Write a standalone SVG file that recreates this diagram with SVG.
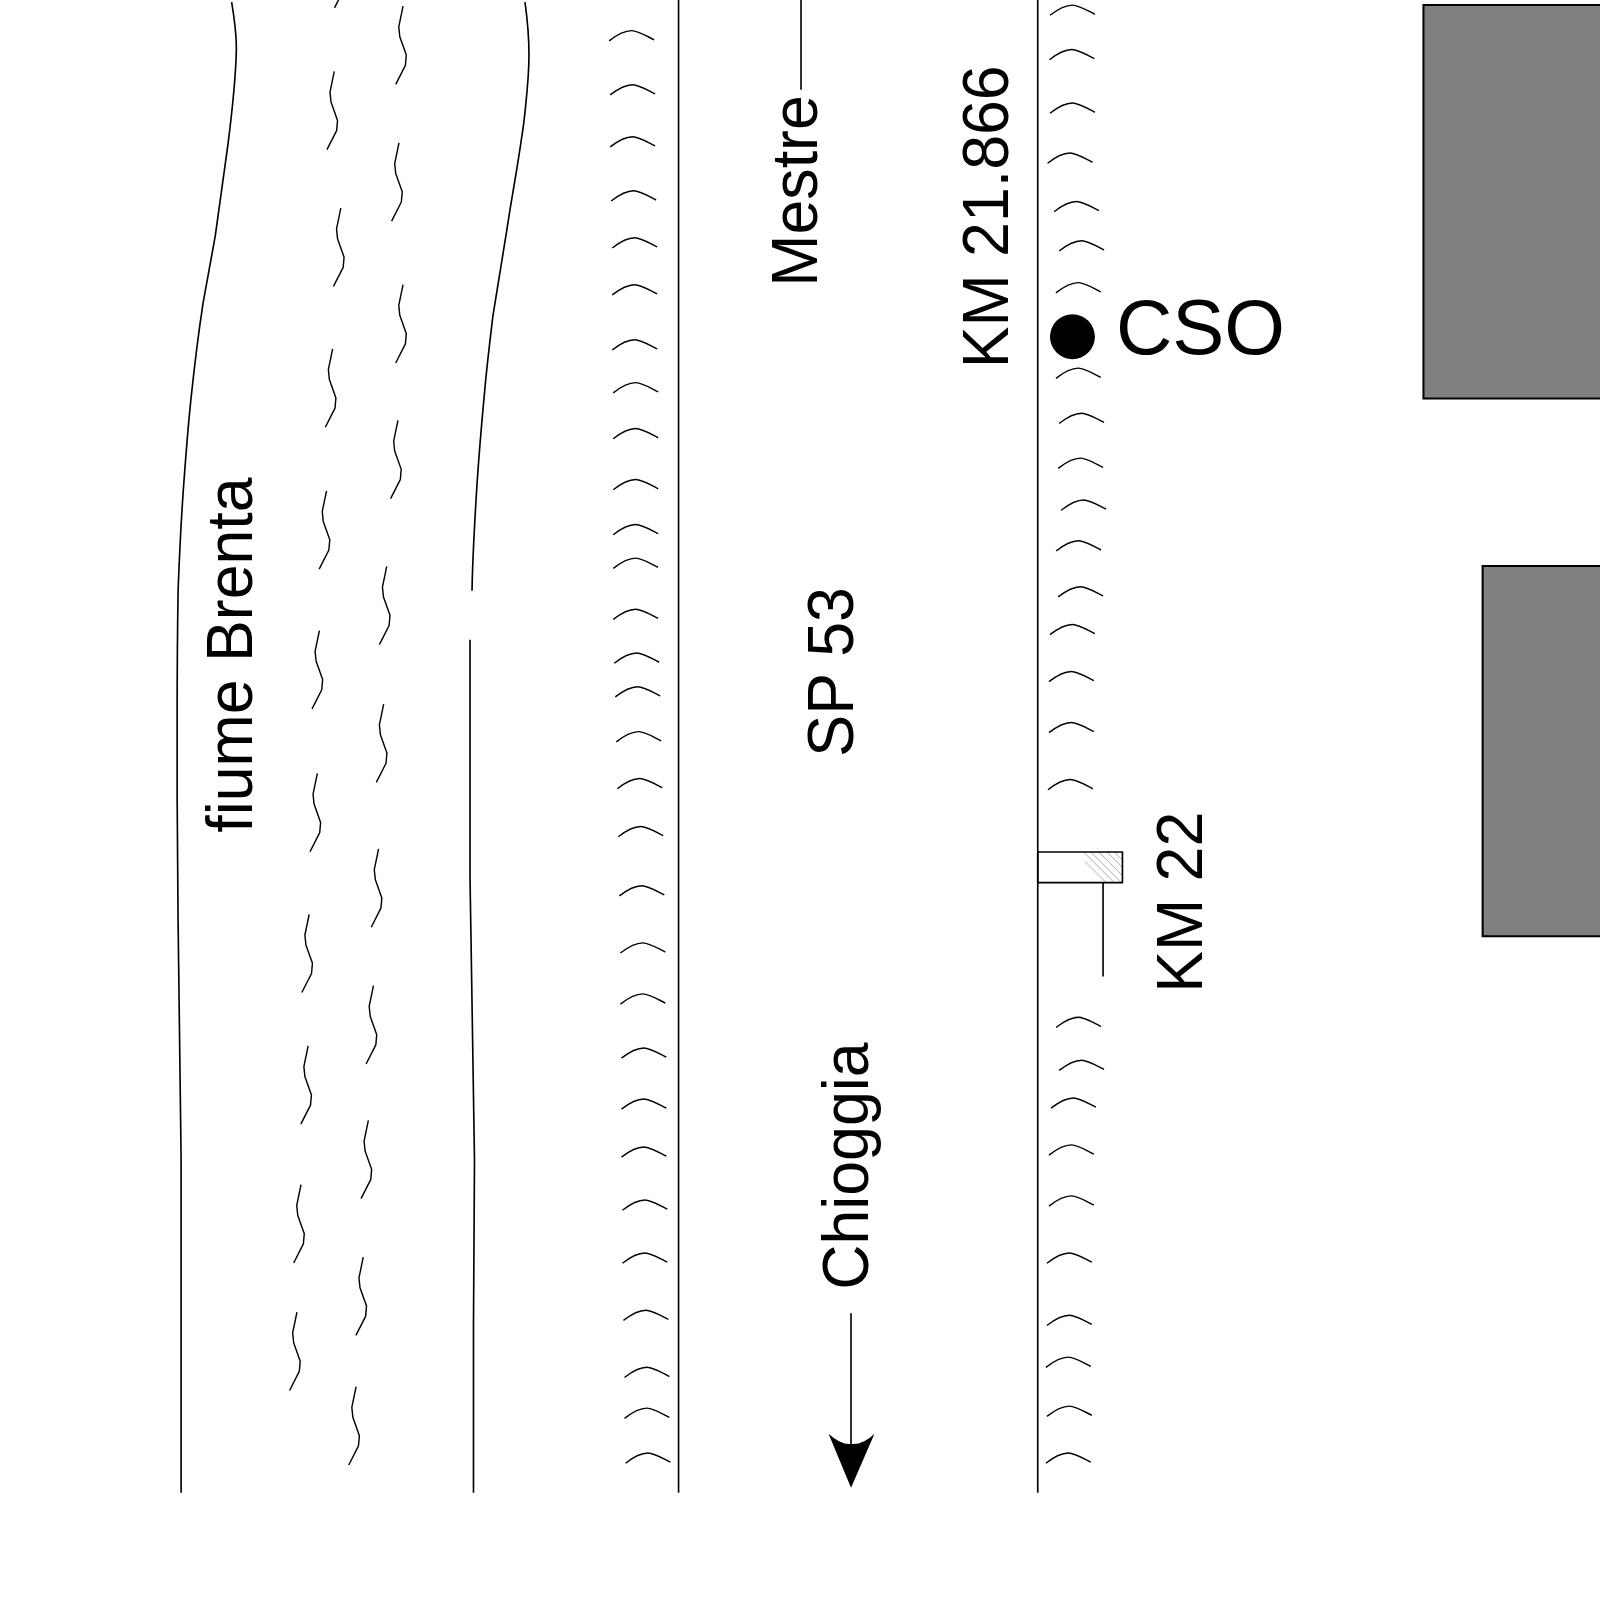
<svg xmlns="http://www.w3.org/2000/svg" width="1600" height="1600" viewBox="0 0 1600 1600">
<style>
.l{fill:none;stroke:#000;stroke-width:1.6;stroke-linejoin:round}
.t{fill:none;stroke:#000;stroke-width:1.4;stroke-linejoin:round}
.h{fill:none;stroke:#777;stroke-width:.6}
.f{fill:#808080}
.e{fill:none;stroke:#000;stroke-width:2}
text{font-family:"Liberation Sans",Arial,sans-serif;font-size:63px;fill:#000}
</style>
<defs>
<path id="a" class="t" d="M-22 10C-13 3-6 0 0 0C6 0 14 5 22 9"/>
<path id="s" class="t" d="M0 0L-4.2 20.3L-3.2 30L3.2 48L2.3 58L-7.2 76.7"/>
</defs>
<rect width="1600" height="1600" fill="#fff"/>
<g transform="scale(1.0204)">
<g id="river">
<path class="l" d="M227 2C230 20 232 35 231.6 50C231 75 228 105 223.6 140L211 231L199 297C194 330 191 355 188 383C185 410 183 435 181 462C178 500 176 540 174.6 577C174 610 173.6 640 173.6 700V780L174.5 900L177.5 1137V1463"/>
<path class="l" d="M514.5 2C517 20 518.4 38 518.4 54C518.4 70 517 86 515 105C514 115 513 125 511 136C507 165 502 190 496.6 226L483 310C480 335 477 360 475 383C472 415 469 450 467 482C465 515 463 550 462.6 579"/>
<path class="l" d="M460.6 627V860L461.6 920L465 1137L464 1300V1463"/>
<g id="ripples">
<use href="#s" x="395" y="6"/><use href="#s" x="391" y="140"/><use href="#s" x="395" y="279"/><use href="#s" x="390" y="412"/><use href="#s" x="379" y="555"/><use href="#s" x="376" y="690"/><use href="#s" x="371" y="832"/><use href="#s" x="366" y="966"/><use href="#s" x="361" y="1098"/><use href="#s" x="356" y="1232"/><use href="#s" x="349" y="1359"/>
<use href="#s" x="335" y="-69"/><use href="#s" x="327.6" y="70"/><use href="#s" x="334" y="204"/><use href="#s" x="326" y="342"/><use href="#s" x="320" y="481"/><use href="#s" x="313" y="618"/><use href="#s" x="311" y="758"/><use href="#s" x="303" y="896"/><use href="#s" x="302" y="1025"/><use href="#s" x="295" y="1161"/><use href="#s" x="291" y="1286"/>
</g>
</g>
<g id="road">
<path class="l" d="M665 0V1463M1017 0V1463"/>
</g>
<g id="trees-left">
<use href="#a" x="619" y="30"/><use href="#a" x="620" y="83"/><use href="#a" x="620" y="134"/><use href="#a" x="621" y="187"/><use href="#a" x="622" y="233"/><use href="#a" x="622" y="279"/><use href="#a" x="622" y="333"/><use href="#a" x="623" y="375"/><use href="#a" x="623" y="420"/><use href="#a" x="623" y="470"/><use href="#a" x="623" y="514"/><use href="#a" x="623" y="547"/><use href="#a" x="623" y="597"/><use href="#a" x="624" y="640"/><use href="#a" x="625" y="673"/><use href="#a" x="626" y="717"/><use href="#a" x="627" y="763"/><use href="#a" x="628" y="810"/><use href="#a" x="629" y="868"/><use href="#a" x="630" y="924"/><use href="#a" x="630" y="974"/><use href="#a" x="631" y="1027"/><use href="#a" x="631" y="1077"/><use href="#a" x="631" y="1124"/><use href="#a" x="632" y="1176"/><use href="#a" x="632" y="1228"/><use href="#a" x="633" y="1284"/><use href="#a" x="634" y="1340"/><use href="#a" x="634" y="1380"/><use href="#a" x="635" y="1424"/>
</g>
<g id="trees-right">
<use href="#a" x="1051" y="5"/><use href="#a" x="1050.5" y="48.5"/><use href="#a" x="1051" y="101"/><use href="#a" x="1048.6" y="150"/><use href="#a" x="1055" y="197.5"/><use href="#a" x="1060" y="236"/><use href="#a" x="1056.8" y="277"/><use href="#a" x="1056.8" y="360.8"/><use href="#a" x="1060" y="405"/><use href="#a" x="1059" y="449"/><use href="#a" x="1062" y="490"/><use href="#a" x="1057" y="530"/><use href="#a" x="1059" y="575"/><use href="#a" x="1051" y="612"/><use href="#a" x="1050" y="658"/><use href="#a" x="1050" y="708"/><use href="#a" x="1049" y="764"/><use href="#a" x="1057" y="997"/><use href="#a" x="1060" y="1039"/><use href="#a" x="1052" y="1076"/><use href="#a" x="1050" y="1122"/><use href="#a" x="1050" y="1172"/><use href="#a" x="1048" y="1228"/><use href="#a" x="1048" y="1289"/><use href="#a" x="1047" y="1330"/><use href="#a" x="1048" y="1378"/><use href="#a" x="1047" y="1424"/>
</g>
<g id="buildings">
<rect class="f" x="1395" y="5" width="173" height="385"/>
<path class="e" d="M1568 5H1395V390.5H1568"/>
<rect class="f" x="1453" y="554.6" width="115" height="363"/>
<path class="e" d="M1568 554.6H1453V917.5H1568"/>
</g>
<g id="cso">
<circle cx="1051" cy="330" r="22" fill="#000"/>
<text x="1093.6" y="347" style="font-size:76.5px">CSO</text>
</g>
<g id="km22">
<path class="h" d="M1063 844L1084 865M1063 836L1092 865M1069 835L1099 865M1077 835L1100 858M1085 835L1100 850M1092 835L1100 843"/>
<rect class="l" x="1017" y="835" width="83" height="30"/>
<path class="l" d="M1081 865V957"/>
<text transform="translate(1177.5 973) rotate(-90) scale(.975 1)">KM 22</text>
</g>
<g id="mestre">
<path class="l" d="M785 0V88"/>
<text transform="translate(801 281) rotate(-90) scale(.975 1)">Mestre</text>
</g>
<text transform="translate(987.5 361) rotate(-90) scale(.975 1)">KM 21.866</text>
<text transform="translate(836 741.5) rotate(-90) scale(.975 1)">SP 53</text>
<text transform="translate(246.6 816) rotate(-90) scale(.975 1)">fiume Brenta</text>
<g id="chioggia">
<text transform="translate(851 1264) rotate(-90) scale(.975 1)">Chioggia</text>
<path class="l" d="M834 1287V1420"/>
<path d="M812 1405Q824 1416 834 1415Q846 1416 857 1405L834 1458Z" fill="#000"/>
</g>
</g>
</svg>
